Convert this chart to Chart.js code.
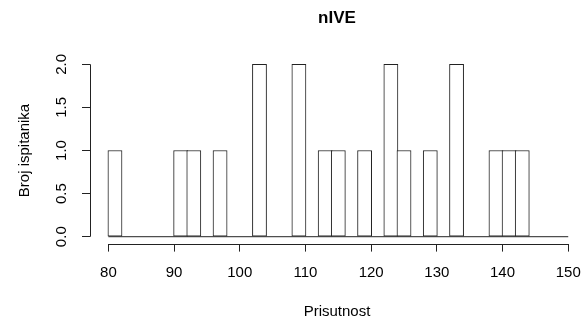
<!DOCTYPE html>
<html>
<head>
<meta charset="utf-8">
<script src="https://cdn.jsdelivr.net/npm/chart.js@4"></script>
<style>
  html, body { margin: 0; padding: 0; background: #fff; overflow: hidden; }
</style>
</head>
<body>
<canvas id="histChart" width="584" height="323"></canvas>
<script>
// histogram bins (left edges) and counts
const binLeft = [80, 82, 84, 86, 88, 90, 92, 94, 96, 98, 100, 102, 104, 106, 108, 110, 112, 114,
                 116, 118, 120, 122, 124, 126, 128, 130, 132, 134, 136, 138, 140, 142, 144, 146, 148];
const counts  = [1, 0, 0, 0, 0, 1, 1, 0, 1, 0, 0, 2, 0, 0, 2, 0, 1, 1,
                 0, 1, 0, 2, 1, 0, 1, 0, 2, 0, 0, 1, 1, 1, 0, 0, 0];
const binWidth = 2;
const xTicks = [80, 90, 100, 110, 120, 130, 140, 150];
const yTicks = [0, 0.5, 1, 1.5, 2];

const FONT = "'Liberation Sans', Arial, sans-serif";
const INK = "#222";

// R style axis lines: only span first..last tick
const rAxes = {
  id: "rAxes",
  afterDraw(chart) {
    const ctx = chart.ctx;
    const x = chart.scales.x, y = chart.scales.y;
    const area = chart.chartArea;
    ctx.save();
    ctx.strokeStyle = INK;
    ctx.lineWidth = 1;
    ctx.beginPath();
    const yb = Math.round(area.bottom) + 0.5;
    ctx.moveTo(x.getPixelForValue(xTicks[0]), yb);
    ctx.lineTo(x.getPixelForValue(xTicks[xTicks.length - 1]), yb);
    const xl = Math.round(area.left) + 0.5;
    ctx.moveTo(xl, y.getPixelForValue(yTicks[0]));
    ctx.lineTo(xl, y.getPixelForValue(yTicks[yTicks.length - 1]));
    ctx.stroke();
    ctx.restore();
  }
};

// bar width = one bin on the x scale (+1 so neighbour borders overlap)
function binPixels(c) {
  const x = c.chart.scales.x;
  return Math.abs(x.getPixelForValue(binLeft[1]) - x.getPixelForValue(binLeft[0])) + 1;
}

const ctx = document.getElementById("histChart").getContext("2d");
new Chart(ctx, {
  type: "bar",
  data: {
    datasets: [{
      type: "line",
      data: [{ x: binLeft[0], y: 0 }, { x: binLeft[binLeft.length - 1] + binWidth, y: 0 }],
      borderColor: INK,
      borderWidth: 1,
      pointRadius: 0,
      order: 2
    }, {
      data: counts.map((c, i) => ({ x: binLeft[i] + binWidth / 2, y: c })),
      backgroundColor: "#fff",
      borderColor: INK,
      borderWidth: 1,
      borderSkipped: false,
      barThickness: binPixels,
      order: 1
    }]
  },
  options: {
    responsive: false,
    animation: false,
    layout: { padding: 0 },
    plugins: {
      legend: { display: false },
      tooltip: { enabled: false },
      title: {
        display: true,
        text: "nIVE",
        fullSize: false,
        color: "#000",
        font: { family: FONT, size: 17, weight: "bold", lineHeight: 1.2 },
        padding: { top: 8, bottom: 29 }
      }
    },
    scales: {
      x: {
        type: "linear",
        offset: false,
        min: 77.2,
        max: 152.4,
        afterBuildTicks: s => { s.ticks = xTicks.map(v => ({ value: v })); },
        afterFit: s => { s.height = 79.4; s.paddingLeft = 0; s.paddingRight = 0; },
        border: { display: false },
        grid: { offset: false, drawOnChartArea: false, drawTicks: true, tickLength: 8, color: INK },
        ticks: { color: "#000", font: { family: FONT, size: 15 }, padding: 12, maxRotation: 0 },
        title: {
          display: true, text: "Prisutnost", color: "#000",
          font: { family: FONT, size: 15, lineHeight: 1.2 }, padding: { top: 0, bottom: 2 }
        }
      },
      y: {
        min: -0.08,
        max: 2.08,
        afterBuildTicks: s => { s.ticks = yTicks.map(v => ({ value: v })); },
        afterFit: s => { s.width = 90; s.paddingTop = 0; s.paddingBottom = 0; },
        border: { display: false },
        grid: { drawOnChartArea: false, drawTicks: true, tickLength: 8, color: INK },
        ticks: {
          color: "#000", font: { family: FONT, size: 15 }, padding: 10,
          minRotation: 90, maxRotation: 90, crossAlign: "center",
          callback: v => v.toFixed(1)
        },
        title: {
          display: true, text: "Broj ispitanika", color: "#000",
          font: { family: FONT, size: 15, lineHeight: 1.2 }, padding: { top: 16, bottom: 0 }
        }
      }
    }
  },
  plugins: [rAxes]
});
</script>
</body>
</html>
